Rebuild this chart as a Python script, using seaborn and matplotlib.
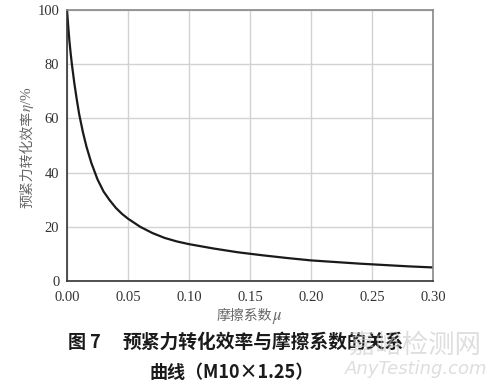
import matplotlib
matplotlib.use("Agg")
import matplotlib.pyplot as plt
import seaborn as sns
import pandas as pd

mu = [0.0, 0.001, 0.002, 0.003, 0.004, 0.006, 0.008, 0.010, 0.013, 0.016, 0.020,
      0.025, 0.030, 0.035, 0.040, 0.045, 0.050, 0.060, 0.070, 0.080, 0.090, 0.100,
      0.120, 0.140, 0.160, 0.180, 0.200, 0.220, 0.240, 0.260, 0.280, 0.300]
eta = [100.0, 94.0, 88.5, 84.0, 80.0, 73.0, 67.0, 61.5, 55.0, 49.5, 43.5,
       37.5, 33.0, 29.8, 27.0, 24.8, 23.0, 20.0, 17.7, 15.9, 14.6, 13.6,
       12.0, 10.6, 9.5, 8.5, 7.6, 7.0, 6.4, 5.9, 5.4, 5.0]
xticks = [0.00, 0.05, 0.10, 0.15, 0.20, 0.25, 0.30]
yticks = [0, 20, 40, 60, 80, 100]

df = pd.DataFrame({"mu": mu, "eta": eta})

sns.set_style("white")
SERIF = ['Liberation Serif', 'DejaVu Serif', 'Noto Sans CJK SC']
CJK = ['Noto Sans CJK SC', 'DejaVu Sans']
plt.rcParams['font.family'] = SERIF
plt.rcParams['mathtext.fontset'] = 'stix'

fig = plt.figure(figsize=(4.97, 3.85), dpi=100)
ax = fig.add_axes([67/497, 1-281/385, (433-67)/497, (281-10)/385])

sns.lineplot(data=df, x="mu", y="eta", ax=ax, color="#1a1a1a", linewidth=1.6)

ax.set_xlim(0, 0.30)
ax.set_ylim(0, 100)
ax.set_xticks(xticks)
ax.set_yticks(yticks)
ax.grid(True, color="#d2d2d2", linewidth=1.0)
ax.tick_params(axis='both', direction='inout', length=5, width=1, color="#333333")
ax.tick_params(axis='x', pad=5)
ax.tick_params(axis='y', pad=3)
ax.set_xticklabels([f"{v:.2f}" for v in xticks], fontfamily=SERIF, fontsize=10.5, color="#333333")
ax.set_yticklabels([str(v) for v in yticks], fontfamily=SERIF, fontsize=10.5, color="#333333")

for s in ['left', 'bottom']:
    ax.spines[s].set_color("#333333")
    ax.spines[s].set_linewidth(1.2)
for s in ['top', 'right']:
    ax.spines[s].set_color("#888888")
    ax.spines[s].set_linewidth(1.2)

ax.set_xlabel("")
ax.set_ylabel("")
fig.text(272/497, 1-316/385, "摩擦系数", family=CJK, fontsize=10,
         color="#666666", ha='right', va='center')
fig.text(272/497, 1-318/385, r"$\mu$", fontsize=12, color="#666666", ha='left', va='center')
fig.text(27/497, 1-159/385, "预紧力转化效率", family=CJK, fontsize=10,
         color="#666666", rotation=90, ha='center', va='center')
fig.text(28/497, 1-99/385, r"$\eta$/%", fontsize=11, color="#666666", rotation=90,
         ha='center', va='center')

fig.text(68/497, 1-342/385, "图 7", family=CJK,
         fontsize=13, fontweight='bold', color="#1a1a1a", ha='left', va='center')
fig.text(123/497, 1-342/385, "预紧力转化效率与摩擦系数的关系", family=CJK,
         fontsize=13.5, fontweight='bold', color="#1a1a1a", ha='left', va='center')
fig.text(232/497, 1-372/385, "曲线（M10×1.25）", family=CJK,
         fontsize=13, fontweight='bold', color="#1a1a1a", ha='center', va='center')

fig.text(415/497, 1-345/385, "嘉峪检测网", family=CJK, fontsize=19,
         color="#c8c8c8", alpha=0.6, ha='center', va='center')
fig.text(416/497, 1-369/385, "AnyTesting.com", family=['DejaVu Sans'], fontsize=13,
         style='italic', color="#c8c8c8", alpha=0.6, ha='center', va='center')

fig.savefig("out.png", dpi=100)
